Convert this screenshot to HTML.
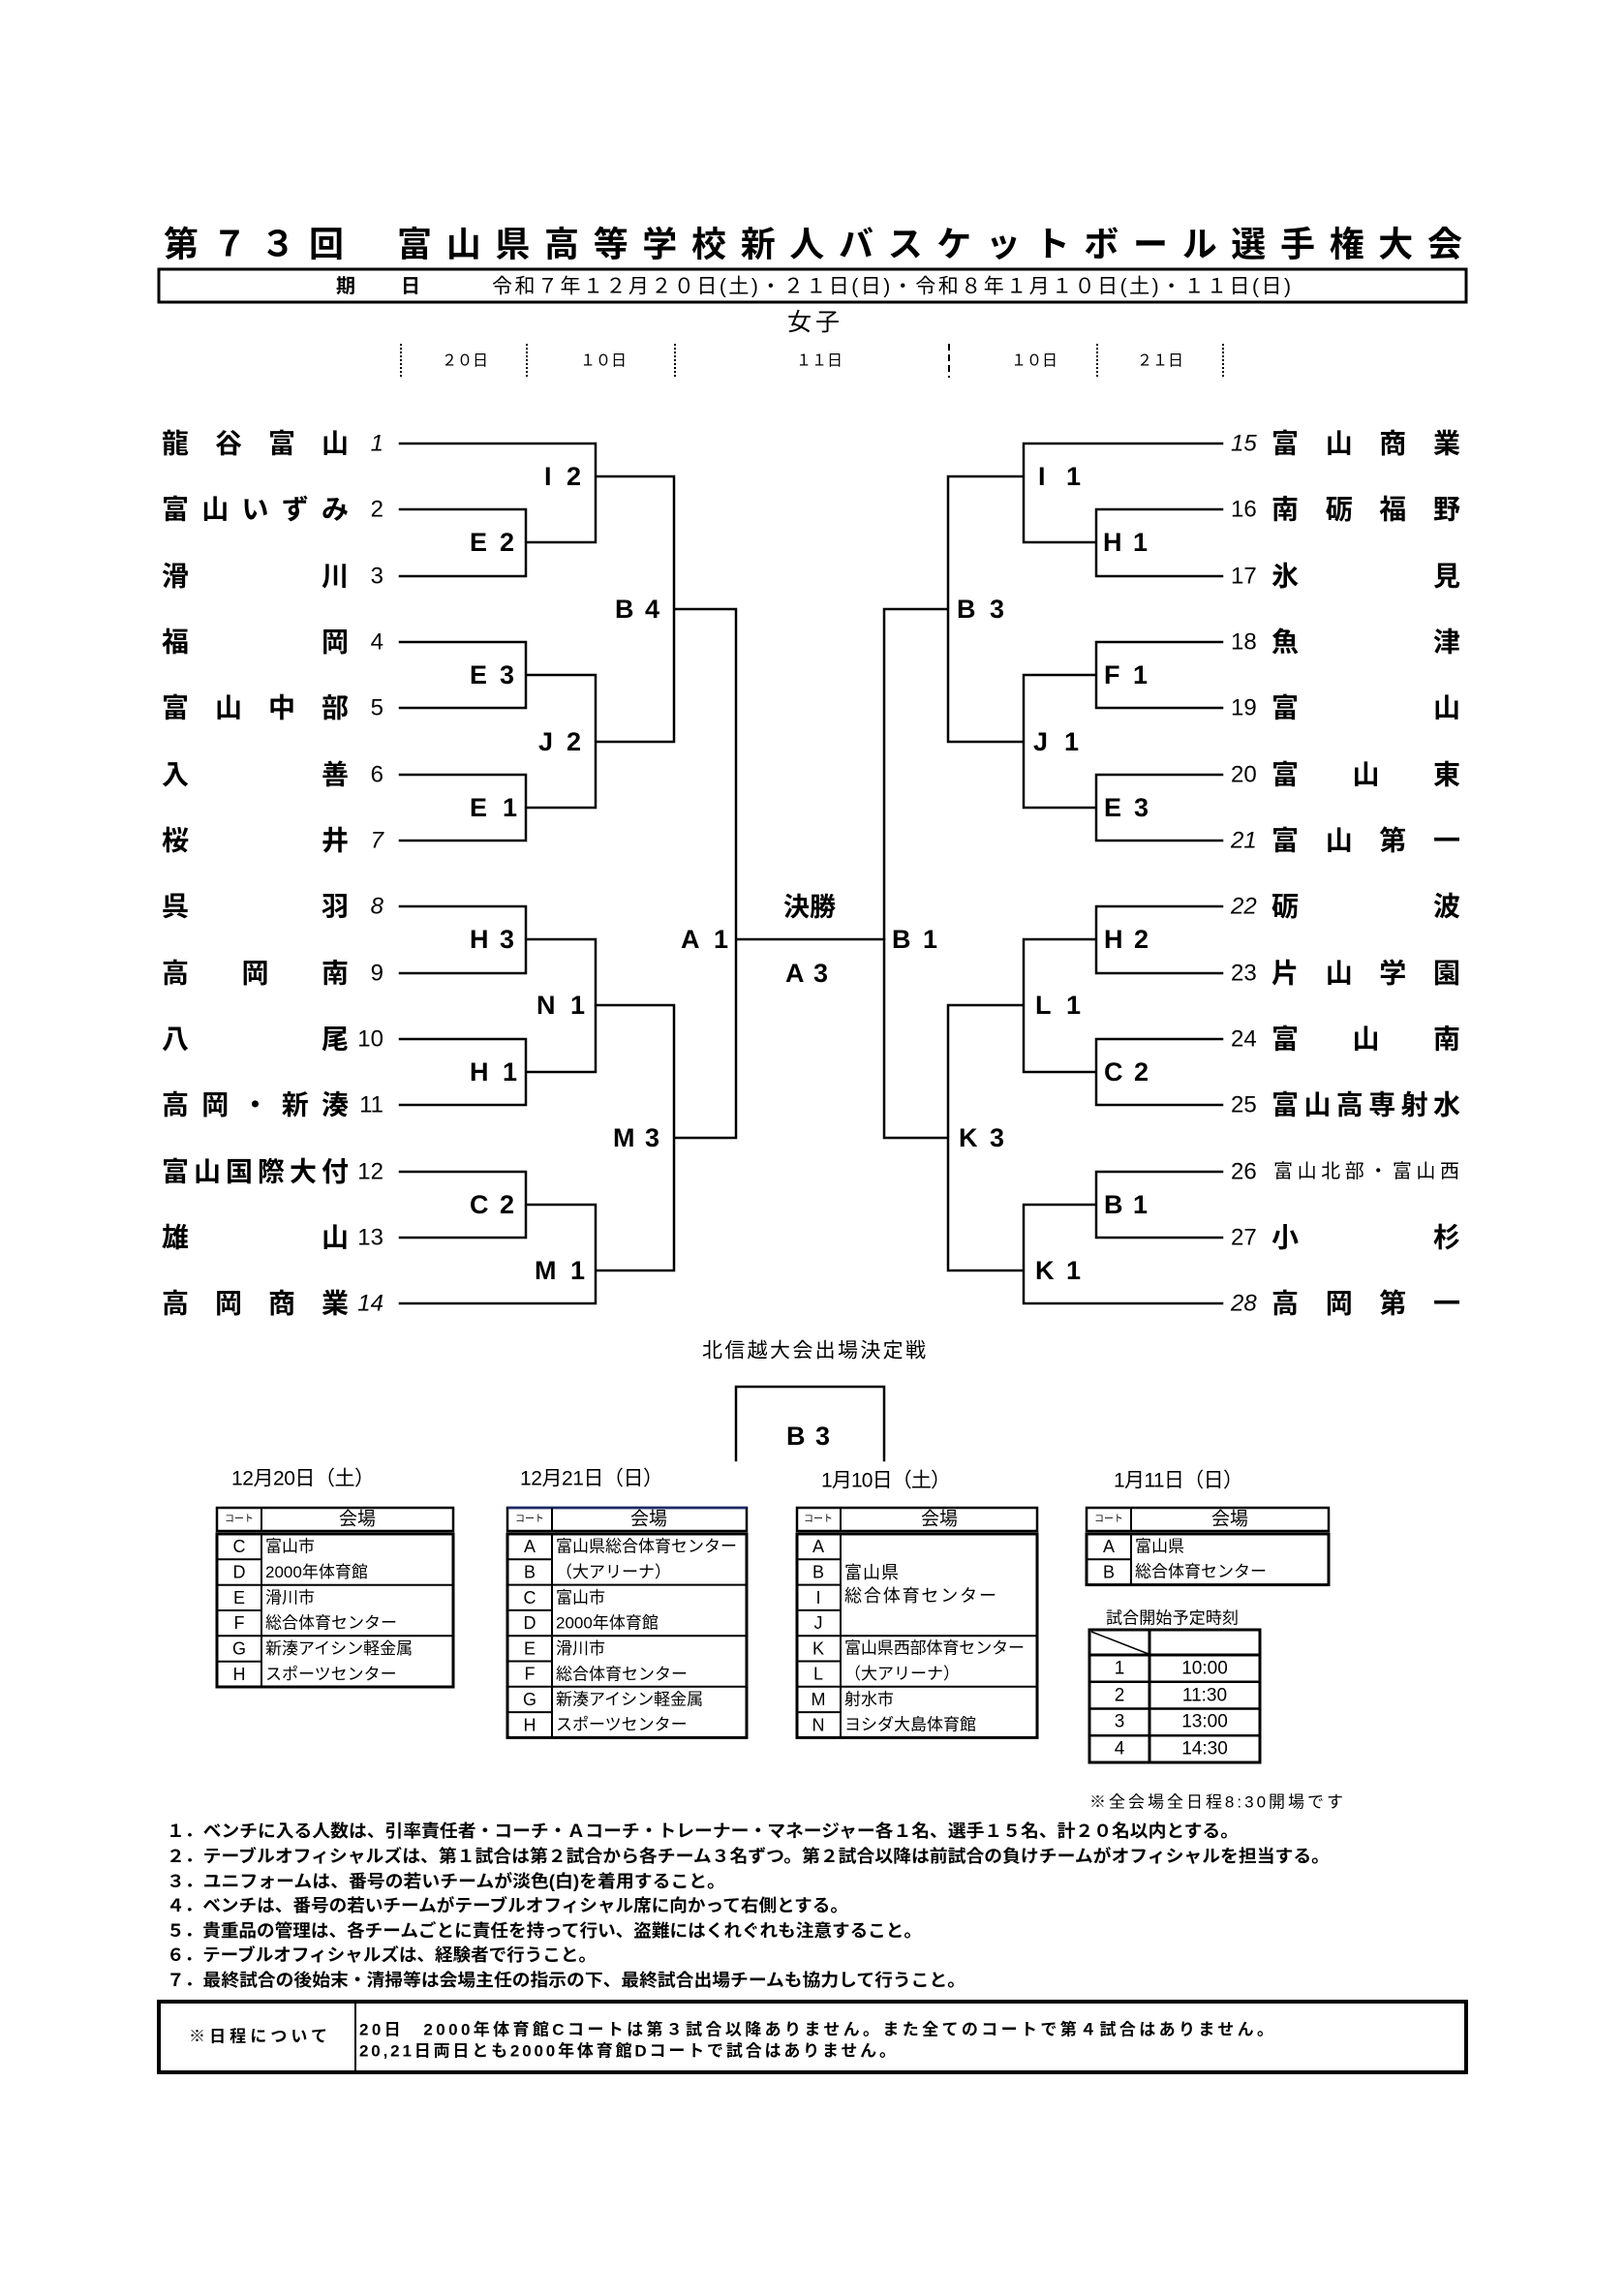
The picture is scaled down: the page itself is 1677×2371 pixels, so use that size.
<!DOCTYPE html>
<html><head><meta charset="utf-8">
<style>
html,body{margin:0;padding:0;background:#fff;}
svg{display:block;}
text{font-family:"Liberation Sans","Noto Sans CJK JP",sans-serif;dominant-baseline:central;fill:#000;}
.t{font-size:36px;font-weight:bold;}
.nm{font-size:28px;font-weight:bold;}
.nms{font-size:20px;}
.num{font-size:24px;}
.it{font-style:italic;}
.lb{font-size:27px;font-weight:bold;}
.hd{font-size:16px;}
.tb{font-size:17px;}
.ct{font-size:18px;}
.nt{font-size:18px;font-weight:bold;}
</style></head><body>
<svg width="1677" height="2371" viewBox="0 0 1677 2371" xmlns="http://www.w3.org/2000/svg">
<rect width="1677" height="2371" fill="#fff"/>

<!-- Title -->
<text class="t" x="169 219 269 319 410 460.7 511.3 562 612.7 663.3 714 764.7 815.3 866 916.7 967.3 1018 1068.7 1119.3 1170 1220.7 1271.3 1322 1372.7 1423.3 1474" y="252">第７３回富山県高等学校新人バスケットボール選手権大会</text>

<!-- date box -->
<rect x="164" y="278" width="1350" height="34" fill="none" stroke="#000" stroke-width="3"/>
<text x="347" y="296" style="font-size:20px;font-weight:bold">期</text>
<text x="414" y="296" style="font-size:20px;font-weight:bold">日</text>
<text x="508" y="296" style="font-size:21px" textLength="825" lengthAdjust="spacing">令和７年１２月２０日(土)・２１日(日)・令和８年１月１０日(土)・１１日(日)</text>

<text x="840" y="333" text-anchor="middle" style="font-size:25px" textLength="54" lengthAdjust="spacing">女子</text>

<!-- header dotted lines -->
<g stroke="#000" stroke-width="2" fill="none">
<path d="M414 355V390M544 355V390M697 355V390M1133 355V390M1263 355V390" stroke-dasharray="2 2"/>
<path d="M980 355V390" stroke-dasharray="7 4"/>
</g>
<text class="hd" x="480" y="373" text-anchor="middle" textLength="48" lengthAdjust="spacing">２０日</text>
<text class="hd" x="623" y="373" text-anchor="middle" textLength="48" lengthAdjust="spacing">１０日</text>
<text class="hd" x="846" y="373" text-anchor="middle" textLength="48" lengthAdjust="spacing">１１日</text>
<text class="hd" x="1068" y="373" text-anchor="middle" textLength="48" lengthAdjust="spacing">１０日</text>
<text class="hd" x="1198" y="373" text-anchor="middle" textLength="48" lengthAdjust="spacing">２１日</text>

<!-- bracket lines -->
<g stroke="#000" stroke-width="2.5" fill="none" stroke-linecap="square">
<path d="M413 458H615
M413 526H543M413 595H543M543 526V595M543 560H615
M615 458V560M615 492H696
M413 663H543M413 731H543M543 663V731M543 697H615
M413 800H543M413 868H543M543 800V868M543 834H615
M615 697V834M615 766H696
M696 492V766M696 629H760
M413 936H543M413 1005H543M543 936V1005M543 970H615
M413 1073H543M413 1141H543M543 1073V1141M543 1107H615
M615 970V1107M615 1038H696
M413 1210H543M413 1278H543M543 1210V1278M543 1244H615
M413 1346H615
M615 1244V1346M615 1312H696
M696 1038V1312M696 1175H760
M760 629V1175M760 970H913"/>
<path d="M1262 458H1057
M1262 526H1132M1262 595H1132M1132 526V595M1132 560H1057
M1057 458V560M1057 492H979
M1262 663H1132M1262 731H1132M1132 663V731M1132 697H1057
M1262 800H1132M1262 868H1132M1132 800V868M1132 834H1057
M1057 697V834M1057 766H979
M979 492V766M979 629H913
M1262 936H1132M1262 1005H1132M1132 936V1005M1132 970H1057
M1262 1073H1132M1262 1141H1132M1132 1073V1141M1132 1107H1057
M1057 970V1107M1057 1038H979
M1262 1210H1132M1262 1278H1132M1132 1210V1278M1132 1244H1057
M1262 1346H1057
M1057 1244V1346M1057 1312H979
M979 1038V1312M979 1175H913
M913 629V1175"/>
<path d="M760 1508V1432H913V1508"/>
</g>

<!-- left team names -->
<text class="nm" x="167 222 277 332" y="458">龍谷富山</text>
<text class="nm" x="167 208.25 249.5 290.75 332" y="526">富山いずみ</text>
<text class="nm" x="167 332" y="595">滑川</text>
<text class="nm" x="167 332" y="663">福岡</text>
<text class="nm" x="167 222 277 332" y="731">富山中部</text>
<text class="nm" x="167 332" y="800">入善</text>
<text class="nm" x="167 332" y="868">桜井</text>
<text class="nm" x="167 332" y="936">呉羽</text>
<text class="nm" x="167 249.5 332" y="1005">高岡南</text>
<text class="nm" x="167 332" y="1073">八尾</text>
<text class="nm" x="167 208.25 249.5 290.75 332" y="1141">高岡・新湊</text>
<text class="nm" x="167 200 233 266 299 332" y="1210">富山国際大付</text>
<text class="nm" x="167 332" y="1278">雄山</text>
<text class="nm" x="167 222 277 332" y="1346">高岡商業</text>

<!-- left numbers -->
<g text-anchor="end">
<text class="num it" x="396" y="458">1</text>
<text class="num" x="396" y="526">2</text>
<text class="num" x="396" y="595">3</text>
<text class="num" x="396" y="663">4</text>
<text class="num" x="396" y="731">5</text>
<text class="num" x="396" y="800">6</text>
<text class="num it" x="396" y="868">7</text>
<text class="num it" x="396" y="936">8</text>
<text class="num" x="396" y="1005">9</text>
<text class="num" x="396" y="1073">10</text>
<text class="num" x="396" y="1141">11</text>
<text class="num" x="396" y="1210">12</text>
<text class="num" x="396" y="1278">13</text>
<text class="num it" x="396" y="1346">14</text>
</g>

<!-- right numbers -->
<text class="num it" x="1271" y="458">15</text>
<text class="num" x="1271" y="526">16</text>
<text class="num" x="1271" y="595">17</text>
<text class="num" x="1271" y="663">18</text>
<text class="num" x="1271" y="731">19</text>
<text class="num" x="1271" y="800">20</text>
<text class="num it" x="1271" y="868">21</text>
<text class="num it" x="1271" y="936">22</text>
<text class="num" x="1271" y="1005">23</text>
<text class="num" x="1271" y="1073">24</text>
<text class="num" x="1271" y="1141">25</text>
<text class="num" x="1271" y="1210">26</text>
<text class="num" x="1271" y="1278">27</text>
<text class="num it" x="1271" y="1346">28</text>

<!-- right team names -->
<text class="nm" x="1313 1368.7 1424.3 1480" y="458">富山商業</text>
<text class="nm" x="1313 1368.7 1424.3 1480" y="526">南砺福野</text>
<text class="nm" x="1313 1480" y="595">氷見</text>
<text class="nm" x="1313 1480" y="663">魚津</text>
<text class="nm" x="1313 1480" y="731">富山</text>
<text class="nm" x="1313 1396.5 1480" y="800">富山東</text>
<text class="nm" x="1313 1368.7 1424.3 1480" y="868">富山第一</text>
<text class="nm" x="1313 1480" y="936">砺波</text>
<text class="nm" x="1313 1368.7 1424.3 1480" y="1005">片山学園</text>
<text class="nm" x="1313 1396.5 1480" y="1073">富山南</text>
<text class="nm" x="1313 1346.4 1379.8 1413.2 1446.6 1480" y="1141">富山高専射水</text>
<text class="nms" x="1315 1339.6 1364.1 1388.7 1413.3 1437.9 1462.4 1487" y="1210">富山北部・富山西</text>
<text class="nm" x="1313 1480" y="1278">小杉</text>
<text class="nm" x="1313 1368.7 1424.3 1480" y="1346">高岡第一</text>

<!-- left labels -->
<text class="lb" x="562 585" y="492">I2</text>
<text class="lb" x="485 516" y="560">E2</text>
<text class="lb" x="635 666" y="629">B4</text>
<text class="lb" x="485 516" y="697">E3</text>
<text class="lb" x="556 585" y="766">J2</text>
<text class="lb" x="485 519" y="834">E1</text>
<text class="lb" x="485 516" y="970">H3</text>
<text class="lb" x="554 589" y="1038">N1</text>
<text class="lb" x="485 519" y="1107">H1</text>
<text class="lb" x="633 666" y="1175">M3</text>
<text class="lb" x="485 516" y="1244">C2</text>
<text class="lb" x="552 589" y="1312">M1</text>
<text class="lb" x="703 737" y="970">A1</text>

<!-- right labels -->
<text class="lb" x="1072 1101" y="492">I1</text>
<text class="lb" x="1139 1170" y="560">H1</text>
<text class="lb" x="988 1022" y="629">B3</text>
<text class="lb" x="1140 1170" y="697">F1</text>
<text class="lb" x="1067 1099" y="766">J1</text>
<text class="lb" x="1140 1171" y="834">E3</text>
<text class="lb" x="1140 1171" y="970">H2</text>
<text class="lb" x="1069 1101" y="1038">L1</text>
<text class="lb" x="1140 1171" y="1107">C2</text>
<text class="lb" x="990 1022" y="1175">K3</text>
<text class="lb" x="1140 1170" y="1244">B1</text>
<text class="lb" x="1069 1101" y="1312">K1</text>
<text class="lb" x="921 953" y="970">B1</text>

<!-- center -->
<text x="836" y="937" text-anchor="middle" style="font-size:27px;font-weight:bold">決勝</text>
<text class="lb" x="811 840" y="1005">A3</text>

<text x="725" y="1395" style="font-size:21px" textLength="231" lengthAdjust="spacing">北信越大会出場決定戦</text>
<text class="lb" x="812 842" y="1483">B3</text>

<!-- dates above tables -->
<text x="239" y="1527" style="font-size:21px" textLength="148" lengthAdjust="spacing">12月20日（土）</text>
<text x="537" y="1527" style="font-size:21px" textLength="148" lengthAdjust="spacing">12月21日（日）</text>
<text x="848" y="1529" style="font-size:21px" textLength="134" lengthAdjust="spacing">1月10日（土）</text>
<text x="1150" y="1529" style="font-size:21px" textLength="134" lengthAdjust="spacing">1月11日（日）</text>

<!-- tables lines -->
<g stroke="#000" fill="none">
<!-- T1 -->
<rect x="224" y="1557" width="244" height="24" stroke-width="2.5"/>
<path d="M270 1557V1581" stroke-width="2"/>
<rect x="224" y="1584" width="244" height="158" stroke-width="3"/>
<path d="M270 1584V1742M224 1610.3H270M224 1663H270M224 1715.7H270M224 1636.7H468M224 1689.3H468" stroke-width="2"/>
<!-- T2 -->
<rect x="524" y="1557" width="247" height="24" stroke-width="2.5"/>
<path d="M524 1557H771" stroke="#1c2a6b" stroke-width="2.5"/>
<path d="M570 1557V1581" stroke-width="2"/>
<rect x="524" y="1584" width="247" height="210.4" stroke-width="3"/>
<path d="M570 1584V1794.4M524 1610.3H570M524 1662.9H570M524 1715.5H570M524 1768.1H570M524 1636.6H771M524 1689.2H771M524 1741.8H771" stroke-width="2"/>
<!-- T3 -->
<rect x="823" y="1557" width="248" height="24" stroke-width="2.5"/>
<path d="M868 1557V1581" stroke-width="2"/>
<rect x="823" y="1584" width="248" height="210.4" stroke-width="3"/>
<path d="M868 1584V1794.4M823 1610.3H868M823 1636.6H868M823 1662.9H868M823 1715.5H868M823 1768.1H868M823 1689.2H1071M823 1741.8H1071" stroke-width="2"/>
<!-- T4 -->
<rect x="1122" y="1557" width="250" height="24" stroke-width="2.5"/>
<path d="M1168 1557V1581" stroke-width="2"/>
<rect x="1122" y="1584" width="250" height="52.6" stroke-width="3"/>
<path d="M1168 1584V1636.6M1122 1610.3H1168" stroke-width="2"/>
<!-- time table -->
<rect x="1125" y="1683" width="176" height="137" stroke-width="3"/>
<path d="M1187 1683V1820M1125 1709H1301" stroke-width="3"/>
<path d="M1125 1736.75H1301M1125 1764.5H1301M1125 1792.25H1301" stroke-width="2.5"/>
<path d="M1127 1685L1186 1708" stroke-width="1.5"/>
<!-- bottom box -->
<rect x="164" y="2067" width="1350" height="73" stroke-width="4"/>
<path d="M367 2067V2140" stroke-width="2"/>
</g>

<!-- table texts -->
<g class="tb">
<text x="247" y="1569" text-anchor="middle" style="font-size:10px">コート</text>
<text x="369" y="1569" text-anchor="middle" style="font-size:19px">会場</text>
<text x="547" y="1569" text-anchor="middle" style="font-size:10px">コート</text>
<text x="670" y="1569" text-anchor="middle" style="font-size:19px">会場</text>
<text x="845" y="1569" text-anchor="middle" style="font-size:10px">コート</text>
<text x="970" y="1569" text-anchor="middle" style="font-size:19px">会場</text>
<text x="1145" y="1569" text-anchor="middle" style="font-size:10px">コート</text>
<text x="1270" y="1569" text-anchor="middle" style="font-size:19px">会場</text>
</g>

<g class="ct" text-anchor="middle">
<text x="247" y="1597.2">C</text><text x="247" y="1623.5">D</text><text x="247" y="1649.8">E</text>
<text x="247" y="1676.2">F</text><text x="247" y="1702.5">G</text><text x="247" y="1728.8">H</text>
<text x="547" y="1597.2">A</text><text x="547" y="1623.5">B</text><text x="547" y="1649.8">C</text>
<text x="547" y="1676.1">D</text><text x="547" y="1702.4">E</text><text x="547" y="1728.7">F</text>
<text x="547" y="1755">G</text><text x="547" y="1781.3">H</text>
<text x="845" y="1597.2">A</text><text x="845" y="1623.5">B</text><text x="845" y="1649.8">I</text>
<text x="845" y="1676.1">J</text><text x="845" y="1702.4">K</text><text x="845" y="1728.7">L</text>
<text x="845" y="1755">M</text><text x="845" y="1781.3">N</text>
<text x="1145" y="1597.2">A</text><text x="1145" y="1623.5">B</text>
</g>

<g class="tb">
<text x="274" y="1597">富山市</text>
<text x="274" y="1623.5">2000年体育館</text>
<text x="274" y="1650">滑川市</text>
<text x="274" y="1676">総合体育センター</text>
<text x="274" y="1702.5">新湊アイシン軽金属</text>
<text x="274" y="1729">スポーツセンター</text>

<text x="574" y="1597">富山県総合体育センター</text>
<text x="574" y="1623.5">（大アリーナ）</text>
<text x="574" y="1650">富山市</text>
<text x="574" y="1676">2000年体育館</text>
<text x="574" y="1702.5">滑川市</text>
<text x="574" y="1729">総合体育センター</text>
<text x="574" y="1755">新湊アイシン軽金属</text>
<text x="574" y="1781">スポーツセンター</text>

<text x="872" y="1624" style="font-size:18px" textLength="56" lengthAdjust="spacing">富山県</text>
<text x="872" y="1648" style="font-size:18px" textLength="157" lengthAdjust="spacing">総合体育センター</text>
<text x="872" y="1702" textLength="186" lengthAdjust="spacing">富山県西部体育センター</text>
<text x="872" y="1728.7">（大アリーナ）</text>
<text x="872" y="1755">射水市</text>
<text x="872" y="1781">ヨシダ大島体育館</text>

<text x="1172" y="1597">富山県</text>
<text x="1172" y="1623">総合体育センター</text>
</g>

<text x="1142" y="1671" class="tb" textLength="137" lengthAdjust="spacing">試合開始予定時刻</text>
<g style="font-size:19px" text-anchor="middle">
<text x="1156" y="1723">1</text><text x="1244" y="1723">10:00</text>
<text x="1156" y="1751">2</text><text x="1244" y="1751">11:30</text>
<text x="1156" y="1778">3</text><text x="1244" y="1778">13:00</text>
<text x="1156" y="1806">4</text><text x="1244" y="1806">14:30</text>
</g>
<text x="1125" y="1861" class="tb" textLength="262" lengthAdjust="spacing">※全会場全日程8:30開場です</text>

<!-- notes -->
<text class="nt" x="172" y="1891" textLength="1107" lengthAdjust="spacingAndGlyphs">１．ベンチに入る人数は、引率責任者・コーチ・Ａコーチ・トレーナー・マネージャー各１名、選手１５名、計２０名以内とする。</text>
<text class="nt" x="172" y="1917" textLength="1201" lengthAdjust="spacingAndGlyphs">２．テーブルオフィシャルズは、第１試合は第２試合から各チーム３名ずつ。第２試合以降は前試合の負けチームがオフィシャルを担当する。</text>
<text class="nt" x="172" y="1943" textLength="577" lengthAdjust="spacingAndGlyphs">３．ユニフォームは、番号の若いチームが淡色(白)を着用すること。</text>
<text class="nt" x="172" y="1968" textLength="704" lengthAdjust="spacingAndGlyphs">４．ベンチは、番号の若いチームがテーブルオフィシャル席に向かって右側とする。</text>
<text class="nt" x="172" y="1994" textLength="780" lengthAdjust="spacingAndGlyphs">５．貴重品の管理は、各チームごとに責任を持って行い、盗難にはくれぐれも注意すること。</text>
<text class="nt" x="172" y="2019" textLength="444" lengthAdjust="spacingAndGlyphs">６．テーブルオフィシャルズは、経験者で行うこと。</text>
<text class="nt" x="172" y="2045" textLength="825" lengthAdjust="spacingAndGlyphs">７．最終試合の後始末・清掃等は会場主任の指示の下、最終試合出場チームも協力して行うこと。</text>

<!-- bottom box texts -->
<text class="tb" x="195" y="2103" style="font-weight:bold" textLength="143" lengthAdjust="spacing">※日程について</text>
<text class="tb" x="371" y="2096" style="font-weight:bold" textLength="944" lengthAdjust="spacing">20日　2000年体育館Cコートは第３試合以降ありません。また全てのコートで第４試合はありません。</text>
<text class="tb" x="371" y="2118" style="font-weight:bold" textLength="554" lengthAdjust="spacing">20,21日両日とも2000年体育館Dコートで試合はありません。</text>
</svg>
</body></html>
